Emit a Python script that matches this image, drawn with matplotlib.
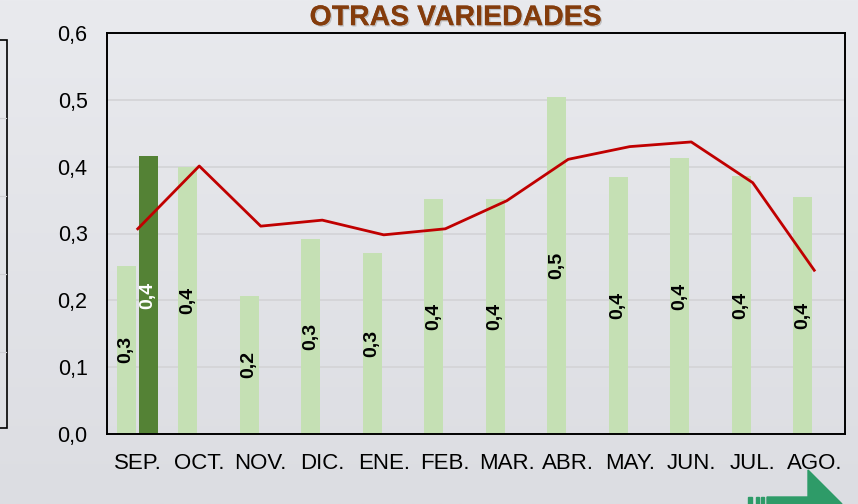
import matplotlib.pyplot as plt
import matplotlib.patheffects as pe
from matplotlib.colors import LinearSegmentedColormap
from matplotlib.patches import Polygon, Rectangle
import numpy as np

plt.rcParams['font.family'] = ['Liberation Sans', 'DejaVu Sans']

months = ["SEP.", "OCT.", "NOV.", "DIC.", "ENE.", "FEB.", "MAR.",
          "ABR.", "MAY.", "JUN.", "JUL.", "AGO."]
prev_season = [0.252, 0.40, 0.207, 0.292, 0.271, 0.351, 0.351,
               0.504, 0.385, 0.413, 0.386, 0.354]
curr_season = [0.416]
average = [0.307, 0.401, 0.311, 0.320, 0.298, 0.307, 0.349,
           0.411, 0.430, 0.437, 0.376, 0.245]
y_ticks = [0.0, 0.1, 0.2, 0.3, 0.4, 0.5, 0.6]

light_green = "#C5E0B4"
dark_green = "#548235"
red = "#C00000"
arrow_green = "#2E9B68"


def fmt(v):
    return f"{v:.1f}".replace(".", ",")


W, H = 858, 504
fig = plt.figure(figsize=(W / 100, H / 100), dpi=100)

# soft grey backdrop, drawn in pixel units
bg = fig.add_axes([0, 0, 1, 1], zorder=-10)
grad = np.linspace(0, 1, 256).reshape(-1, 1)
bg.imshow(grad, aspect="auto", extent=[0, W, H, 0],
          cmap=LinearSegmentedColormap.from_list("bgc", ["#e9eaee", "#dcdde2"]))
bg.set_xlim(0, W)
bg.set_ylim(H, 0)
bg.axis("off")

# edge of the neighbouring chart on the left
bg.add_patch(Rectangle((-20, 40), 27, 388, fill=False, edgecolor="black", lw=1.2))
for gy in [118, 196, 274, 352]:
    bg.plot([0, 6], [gy, gy], color="#d0d0d4", lw=0.8)

# green arrow at the bottom right
bg.add_patch(Polygon([(767, H), (767, 497), (808, 497), (808, 470), (842, H)],
                     closed=True, color=arrow_green))
for sx, sw in [(748, 4), (756, 3), (761, 2.5)]:
    bg.add_patch(Rectangle((sx, 497), sw, 7, color=arrow_green))

ax = fig.add_axes([107 / W, 1 - 434 / H, (845 - 107) / W, (434 - 33) / H])
ax.set_facecolor("none")

x = np.arange(len(months))
w = 0.31
bars_prev = ax.bar(x - 0.19, prev_season, width=w, color=light_green, zorder=2)
bars_curr = ax.bar(x[:len(curr_season)] + 0.17, curr_season, width=w,
                   color=dark_green, zorder=2)
ax.plot(x, average, color=red, lw=2, zorder=3)

for b, v in zip(bars_prev, prev_season):
    ax.text(b.get_x() + b.get_width() / 2, v / 2, fmt(v),
            rotation=90, ha="center", va="center", fontsize=14,
            fontweight="bold", color="black", zorder=4)
for b, v in zip(bars_curr, curr_season):
    ax.text(b.get_x() + b.get_width() / 2, v / 2, fmt(v),
            rotation=90, ha="center", va="center", fontsize=14,
            fontweight="bold", color="white", zorder=4)

ax.set_xlim(-0.5, len(months) - 0.5)
ax.set_ylim(0, 0.6)
ax.set_yticks(y_ticks)
ax.set_yticklabels([fmt(t) for t in y_ticks], fontsize=15.5)
ax.set_xticks(x)
ax.set_xticklabels(months, fontsize=16)
ax.tick_params(length=0)
ax.tick_params(axis="x", pad=14)
ax.tick_params(axis="y", pad=14)
ax.yaxis.grid(True, color="#d3d3d6", lw=1.2, zorder=0)
ax.set_axisbelow(True)
for s in ax.spines.values():
    s.set_color("black")
    s.set_linewidth(1.4)

fig.text(0.531, 0.964, "OTRAS VARIEDADES", ha="center", va="center",
         fontsize=20.5, fontweight="bold", color="#843C0C",
         path_effects=[pe.withSimplePatchShadow(offset=(1, -1), shadow_rgbFace="#999999", alpha=0.5),
                       pe.Normal()])

fig.savefig("out.png", dpi=100)
